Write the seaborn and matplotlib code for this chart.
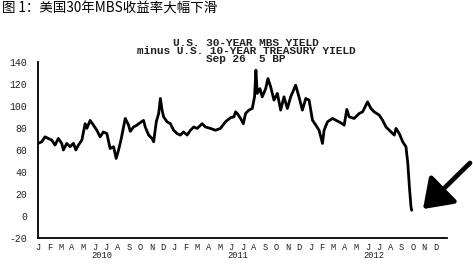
import matplotlib
matplotlib.use("Agg")
import matplotlib.pyplot as plt
import seaborn as sns
import pandas as pd

# months since Jan 2010 (fractional) and spread in basis points
months = [0.00, 0.33, 0.62, 0.91, 1.21, 1.50, 1.79, 2.09, 2.23, 2.53, 2.82, 3.12, 3.33, 3.56,
          3.86, 4.15, 4.30, 4.59, 4.88, 5.18, 5.47, 5.76, 6.06, 6.35, 6.65, 6.88, 7.09, 7.30,
          7.68, 7.97, 8.12, 8.41, 8.71, 9.00, 9.29, 9.44, 9.74, 10.04, 10.18, 10.41, 10.62,
          10.77, 10.92, 11.06, 11.36, 11.65, 11.94, 12.24, 12.53, 12.82, 13.12, 13.42, 13.71,
          14.01, 14.45, 14.74, 15.18, 15.62, 16.06, 16.50, 16.95, 17.24, 17.39, 17.54, 17.83,
          18.07, 18.27, 18.56, 18.86, 19.06, 19.18, 19.30, 19.53, 19.74, 20.04, 20.24, 20.48,
          20.77, 21.07, 21.36, 21.65, 21.95, 22.24, 22.68, 22.97, 23.27, 23.57, 23.86, 24.16,
          24.45, 24.74, 25.04, 25.18, 25.48, 25.92, 26.21, 26.65, 26.95, 27.18, 27.39, 27.83,
          28.27, 28.57, 29.01, 29.30, 29.59, 30.04, 30.33, 30.63, 31.07, 31.36, 31.51, 31.80,
          32.10, 32.39, 32.55, 32.69, 32.83, 32.89]
spread_bp = [66, 67.5, 72, 70.5, 69, 64.5, 70.5, 66, 60, 66, 63, 66, 60, 64.5,
             69, 84, 79.7, 87, 82.7, 78, 72, 76.5, 75, 61.4, 63, 52.3, 60, 69,
             88.8, 82.7, 77, 81, 82.7, 85, 87, 81, 73.6, 70.5, 67.5, 85.7, 93.3,
             107, 96.4, 90.2, 85.7, 84, 78, 75, 73.6, 76.5, 73.6, 78, 81,
             79.7, 84, 81, 79.7, 78, 79.7, 85.7, 89.5, 90.2, 94.8, 93.3, 88.8,
             84, 93.3, 96.4, 97.9, 108.5, 132.8, 111.6, 116, 108.5, 116, 125.2, 117.6,
             105.5, 111.6, 96.4, 108.5, 97.9, 108.5, 119.1, 108.5, 96.4, 107, 105.5, 87.2,
             82.7, 78, 66, 78, 85.7, 88.8, 87.2, 84.8, 82.7, 97, 90.2, 88.8,
             93.3, 94.8, 103.9, 97.9, 94.8, 91.8, 87.2, 81, 76.5, 73.6, 79.7, 75,
             67.5, 62.9, 47.8, 26.4, 8.2, 5]

month_letters = list("JFMAMJJASOND") * 3
years = ["2010", "2011", "2012"]
year_pos = [5.6, 17.6, 29.6]
yticks = [-20, 0, 20, 40, 60, 80, 100, 120, 140]

title_lines = ["U.S. 30-YEAR MBS YIELD",
               "minus U.S. 10-YEAR TREASURY YIELD",
               "Sep 26  5 BP"]
header = "图 1：美国30年MBS收益率大幅下滑"

sns.set_style("white")
plt.rcParams['font.family'] = ['Liberation Mono', 'DejaVu Sans']

df = pd.DataFrame({"month": months, "spread": spread_bp})

fig = plt.figure(figsize=(4.73, 2.68), dpi=100)
ax = fig.add_axes([38 / 473, 30.3 / 268, 409 / 473, 175.4 / 268])

sns.lineplot(data=df, x="month", y="spread", ax=ax, color="black", linewidth=2.0)

ax.set_xlim(0, 36)
ax.set_ylim(-20, 140)
for s in ["top", "right"]:
    ax.spines[s].set_visible(False)
for s in ["left", "bottom"]:
    ax.spines[s].set_color("black")
    ax.spines[s].set_linewidth(1.3)

ax.set_xticks(range(37))
ax.set_xticklabels(month_letters + [""], fontsize=6.3, color="#222222")
ax.set_yticks(yticks)
ax.set_yticklabels([str(v) for v in yticks], fontsize=7, color="#222222")
ax.tick_params(axis="x", direction="inout", length=7, width=1.0, color="black", pad=0.5)
ax.tick_params(axis="y", direction="inout", length=11, width=1.0, color="black", pad=2.5)
ax.set_xlabel("")
ax.set_ylabel("")
ax.grid(False)

for yr, xp in zip(years, year_pos):
    ax.text(xp, (268 - 255.5 - 30.3) / 175.4, yr, transform=ax.get_xaxis_transform(),
            ha="center", va="center", fontsize=6.3, color="#222222")

fig.text(246 / 473, (268 - 51) / 268, "\n".join(title_lines), ha="center", va="center",
         multialignment="center", fontsize=8, linespacing=0.74,
         fontweight="bold", family=["Liberation Mono", "DejaVu Sans"], color="#222222")

fig.text(2 / 473, (268 - 8.5) / 268, header, ha="left", va="center", fontsize=9.7,
         family=["Noto Sans CJK SC", "DejaVu Sans"], color="black")

fig.add_artist(matplotlib.patches.FancyArrowPatch(
    posA=(472, 268 - 161), posB=(421, 268 - 211), transform=None,
    arrowstyle="-|>,head_length=10,head_width=7", mutation_scale=1.7,
    linewidth=3.4, color="black"))

fig.savefig("out.png", dpi=100, facecolor="white")
